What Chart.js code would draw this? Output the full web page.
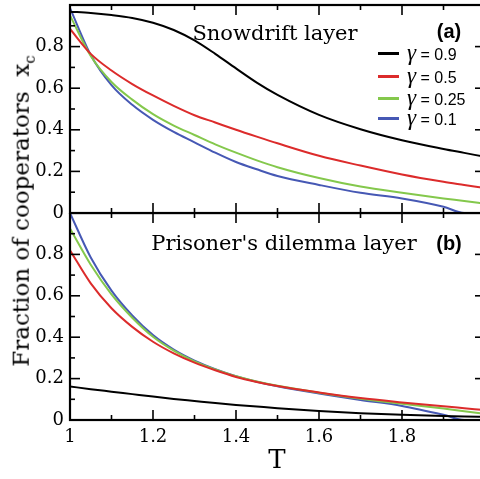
<!DOCTYPE html>
<html>
<head>
<meta charset="utf-8">
<script src="https://cdn.jsdelivr.net/npm/chart.js@4"></script>
<style>
  html, body { margin: 0; padding: 0; overflow: hidden; background: #fff; }
  #wrap { position: relative; width: 480px; height: 479px; overflow: hidden; }
  canvas { position: absolute; left: 0; }
  #topChart { top: 0; }
  #botChart { top: 213px; }
  .txt { position: absolute; font-family: "DejaVu Serif", serif; color: #000; white-space: nowrap; transform: translate(-50%, -50%); }
  .tag { position: absolute; font-family: "Liberation Sans", Arial, sans-serif; font-weight: bold; font-size: 20px; transform: translate(-50%, -50%); }
  .ytitle { position: absolute; left: 23px; top: 211px; font-family: "DejaVu Serif", serif; font-size: 23px;
            white-space: nowrap; transform: translate(-50%, -50%) rotate(-90deg); }
  .ytitle sub { font-size: 15px; }
  .leg { position: absolute; left: 378px; height: 20px; }
  .leg i { position: absolute; left: 0; top: 9px; width: 21px; height: 2.5px; }
  .leg span { position: absolute; left: 29px; top: 0; white-space: nowrap; font-family: "Liberation Sans", Arial, sans-serif; font-size: 16px; line-height: 20px; }
  .leg b { font-family: "Liberation Serif", serif; font-style: italic; font-weight: normal; font-size: 23px; }
</style>
</head>
<body>
<div id="wrap">
  <canvas id="topChart" width="490" height="232"></canvas>
  <canvas id="botChart" width="490" height="246"></canvas>
  <div class="ytitle">Fraction of cooperators&nbsp; x<sub>c</sub></div>
  <div class="txt" style="left:275px; top:33px; font-size:21px;">Snowdrift layer</div>
  <div class="txt" style="left:284px; top:243px; font-size:21px;">Prisoner's dilemma layer</div>
  <div class="tag" style="left:449px; top:31px;">(a)</div>
  <div class="tag" style="left:449px; top:243px;">(b)</div>
  <div class="txt" style="left:277px; top:459px; font-size:26px;">T</div>
  <div id="legend"></div>
</div>
<script>
// temptation T (x axis)
const T = [1, 1.05, 1.1, 1.15, 1.2, 1.25, 1.3, 1.35, 1.4, 1.45, 1.5, 1.6, 1.7, 1.8, 1.9, 1.95, 2];

// gamma values and colours
const gammas = ['0.9', '0.5', '0.25', '0.1'];
const colors = ['#000000', '#dc2b2b', '#84c84c', '#4658b4'];

// (a) snowdrift layer
const sdG09  = [0.968, 0.962, 0.952, 0.938, 0.915, 0.88, 0.83, 0.765, 0.695, 0.627, 0.568, 0.472, 0.403, 0.35, 0.308, 0.289, 0.27];
const sdG05  = [0.885, 0.765, 0.685, 0.62, 0.565, 0.515, 0.47, 0.435, 0.40, 0.367, 0.335, 0.275, 0.228, 0.185, 0.15, 0.135, 0.12];
const sdG025 = [0.95, 0.755, 0.63, 0.545, 0.475, 0.42, 0.375, 0.33, 0.29, 0.253, 0.22, 0.168, 0.127, 0.097, 0.07, 0.058, 0.045];
const sdG01  = [0.985, 0.76, 0.615, 0.52, 0.448, 0.39, 0.34, 0.29, 0.245, 0.21, 0.178, 0.135, 0.097, 0.07, 0.03, 0, 0];

// (b) prisoner's dilemma layer
const pdG09  = [0.162, 0.149, 0.137, 0.125, 0.113, 0.102, 0.092, 0.082, 0.073, 0.065, 0.057, 0.044, 0.033, 0.025, 0.019, 0.017, 0.016];
const pdG05  = [0.82, 0.66, 0.54, 0.45, 0.378, 0.322, 0.277, 0.24, 0.208, 0.184, 0.164, 0.133, 0.106, 0.085, 0.066, 0.057, 0.048];
const pdG025 = [0.925, 0.75, 0.607, 0.494, 0.402, 0.335, 0.283, 0.244, 0.211, 0.186, 0.165, 0.132, 0.103, 0.078, 0.055, 0.042, 0.03];
const pdG01  = [1.0, 0.785, 0.625, 0.505, 0.41, 0.34, 0.287, 0.246, 0.212, 0.185, 0.163, 0.128, 0.097, 0.068, 0.025, 0, 0];

const tickStep = 0.1;

// legend
const legend = document.getElementById('legend');
const legTops = [43, 66, 88, 108];
gammas.forEach((g, i) => {
  const row = document.createElement('div');
  row.className = 'leg';
  row.style.top = legTops[i] + 'px';
  row.innerHTML = '<i style="background:' + colors[i] + '"></i><span><b>\u03B3</b> = ' + g + '</span>';
  legend.appendChild(row);
});

// frame with inward major/minor ticks on all four sides
const frameTicks = {
  id: 'frameTicks',
  afterDatasetsDraw(chart) {
    const { ctx, chartArea: a, scales } = chart;
    const xs = scales.x, ys = scales.y;
    const seg = (x1, y1, x2, y2) => { ctx.beginPath(); ctx.moveTo(x1, y1); ctx.lineTo(x2, y2); ctx.stroke(); };
    ctx.save();
    ctx.strokeStyle = '#000';
    ctx.lineWidth = 1.6;
    const n = Math.round((xs.max - xs.min) / tickStep);
    for (let i = 0; i <= n; i++) {
      const len = i % 2 === 0 ? 10 : 5;
      const px = xs.getPixelForValue(xs.min + i * tickStep);
      seg(px, a.bottom, px, a.bottom - len);
      seg(px, a.top, px, a.top + len);
    }
    const m = Math.round((ys.max - ys.min) / tickStep);
    for (let i = 0; i <= m; i++) {
      const len = i % 2 === 0 ? 10 : 5;
      const py = ys.getPixelForValue(ys.min + i * tickStep);
      seg(a.left, py, a.left + len, py);
      seg(a.right, py, a.right - len, py);
    }
    ctx.lineWidth = 2.2;
    ctx.strokeRect(a.left, a.top, a.right - a.left, a.bottom - a.top);
    ctx.restore();
  }
};

function series(list) {
  return list.map((vals, i) => ({
    label: 'γ = ' + gammas[i],
    data: T.map((t, k) => ({ x: t, y: vals[k] })),
    borderColor: colors[i],
    borderWidth: 2,
    pointRadius: 0,
    cubicInterpolationMode: 'monotone',
    fill: false
  }));
}

const fmt = v => {
  const k = Math.round(v * 10);
  if (k % 2 !== 0) return '';
  return k === 0 ? '0' : (k / 10).toString();
};

function yScale() {
  return {
    type: 'linear', min: 0, max: 1,
    grid: { display: false, drawTicks: false },
    border: { display: false },
    afterFit(s) { s.width = 70; s.paddingTop = 0; s.paddingBottom = 0; },
    ticks: {
      stepSize: tickStep, autoSkip: false, padding: 6, color: '#000',
      font: { family: 'DejaVu Serif', size: 18 },
      callback: v => (Math.round(v * 10) >= 10 ? '' : fmt(v))
    }
  };
}

new Chart(document.getElementById('topChart'), {
  type: 'line',
  data: { datasets: series([sdG09, sdG05, sdG025, sdG01]) },
  plugins: [frameTicks],
  options: {
    responsive: false, animation: false,
    layout: { padding: { left: 0, right: 5, top: 5, bottom: 19 } },
    plugins: { legend: { display: false }, tooltip: { enabled: false } },
    scales: {
      x: { type: 'linear', min: 1, max: 2, display: false },
      y: yScale()
    }
  }
});

new Chart(document.getElementById('botChart'), {
  type: 'line',
  data: { datasets: series([pdG09, pdG05, pdG025, pdG01]) },
  plugins: [frameTicks],
  options: {
    responsive: false, animation: false,
    layout: { padding: { left: 0, right: 5, top: 0, bottom: 0 } },
    plugins: { legend: { display: false }, tooltip: { enabled: false } },
    scales: {
      x: {
        type: 'linear', min: 1, max: 2,
        grid: { display: false, drawTicks: false },
        border: { display: false },
        afterFit(s) { s.height = 39; s.paddingLeft = 0; s.paddingRight = 0; },
        ticks: {
          stepSize: tickStep, autoSkip: false, maxRotation: 0, padding: 7, color: '#000',
          font: { family: 'DejaVu Serif', size: 18 },
          callback: fmt
        }
      },
      y: yScale()
    }
  }
});
</script>
</body>
</html>
